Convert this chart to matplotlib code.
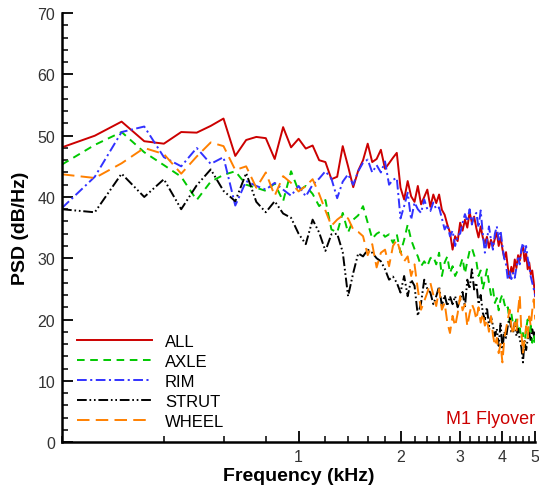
import matplotlib
matplotlib.use("Agg")
import matplotlib.pyplot as plt
from matplotlib.ticker import FixedLocator, NullFormatter

# narrowband spectrum bins (kHz)
FREQ_KHZ = [
    0.20, 0.25, 0.30, 0.35, 0.40, 0.45, 0.50, 0.55, 0.60, 0.65, 0.70, 0.75, 0.80, 0.85, 0.90, 0.95,
    1.00, 1.05, 1.10, 1.15, 1.20, 1.25, 1.30, 1.35, 1.40, 1.45, 1.50, 1.55, 1.60, 1.65, 1.70, 1.75, 1.80, 1.85, 1.90, 1.95,
    2.00, 2.05, 2.10, 2.15, 2.20, 2.25, 2.30, 2.35, 2.40, 2.45, 2.50, 2.55, 2.60, 2.65, 2.70, 2.75, 2.80, 2.85, 2.90, 2.95,
    3.00, 3.05, 3.10, 3.15, 3.20, 3.25, 3.30, 3.35, 3.40, 3.45, 3.50, 3.55, 3.60, 3.65, 3.70, 3.75, 3.80, 3.85, 3.90, 3.95,
    4.00, 4.05, 4.10, 4.15, 4.20, 4.25, 4.30, 4.35, 4.40, 4.45, 4.50, 4.55, 4.60, 4.65, 4.70, 4.75, 4.80, 4.85, 4.90, 4.95,
    5.00,
]

PSD_ALL = [
    48.1, 50.0, 52.3, 49.1, 48.7, 50.6, 50.5, 51.6, 52.8, 46.7, 49.3, 49.8, 49.6, 46.2, 51.4, 48.1,
    49.5, 47.9, 48.4, 46.0, 45.7, 42.9, 43.3, 48.3, 45.0, 41.6, 44.3, 46.0, 48.7, 45.7, 46.2, 47.7, 44.6, 45.5, 46.4, 47.2,
    41.5, 39.6, 42.6, 40.1, 39.2, 41.8, 38.8, 40.0, 41.2, 38.4, 40.4, 39.0, 40.4, 37.9, 37.1, 35.5, 34.2, 31.4, 33.6, 32.8,
    35.8, 34.5, 36.3, 35.0, 37.5, 35.8, 36.8, 34.9, 33.4, 35.2, 33.4, 32.4, 33.5, 31.7, 33.0, 32.0, 33.2, 34.2, 32.0, 33.5,
    31.5, 30.0, 31.0, 28.5, 26.8, 28.6, 27.5, 29.8, 28.4, 30.5, 29.6, 31.2, 32.0, 29.5, 30.8, 28.2, 29.3, 27.4, 28.0, 26.0,
    23.8,
]

PSD_AXLE = [
    45.3, 48.5, 50.6, 47.3, 45.2, 43.3, 39.5, 42.5, 43.6, 44.2, 42.0, 41.5, 41.0, 42.2, 39.3, 44.2,
    41.0, 41.8, 40.5, 38.5, 39.5, 34.7, 34.2, 37.4, 34.2, 36.3, 37.0, 38.5, 35.8, 33.2, 34.0, 34.4, 33.5, 33.9, 32.5, 33.9,
    30.9, 33.0, 35.5, 33.0, 31.5, 30.3, 28.7, 29.5, 28.7, 30.0, 30.3, 29.0, 30.9, 27.1, 29.3, 30.3, 27.6, 28.7, 27.1, 28.0,
    28.7, 30.0, 27.5, 29.5, 31.2, 31.7, 30.5, 29.5, 27.1, 28.0, 24.9, 26.5, 28.2, 26.0, 24.0, 25.0, 22.7, 23.5, 21.5, 23.3,
    24.1, 22.7, 21.6, 22.0, 19.5, 21.0, 19.2, 18.9, 20.2, 17.8, 18.6, 17.0, 17.8, 15.5, 18.5, 20.0, 17.8, 19.0, 16.2, 17.5,
    15.9,
]

PSD_RIM = [
    38.2, 43.3, 50.6, 51.5, 46.5, 45.0, 48.0, 45.4, 46.5, 38.6, 42.6, 41.8, 41.2, 42.3, 41.2, 40.2,
    41.8, 40.1, 42.0, 43.0, 44.2, 43.0, 39.8, 42.5, 43.7, 42.0, 44.2, 45.6, 46.1, 44.0, 45.2, 44.0, 45.8, 42.0, 42.8, 43.1,
    36.5, 38.5, 40.7, 36.3, 39.1, 38.0, 37.4, 39.6, 38.0, 37.7, 39.1, 38.0, 38.3, 36.5, 34.7, 35.5, 33.6, 34.5, 32.0, 33.8,
    34.0, 35.8, 37.2, 36.0, 38.0, 35.5, 37.0, 37.4, 35.0, 37.8, 34.0, 30.9, 33.0, 35.2, 33.0, 31.4, 34.0, 35.2, 33.0, 34.5,
    32.0, 30.0, 29.0, 26.5, 27.8, 26.6, 27.6, 26.8, 28.5, 30.0, 29.0, 31.5, 32.5, 31.0, 32.0, 30.0, 28.7, 27.0, 26.0, 25.0,
    23.8,
]

PSD_STRUT = [
    38.0, 37.5, 43.8, 40.0, 42.9, 38.0, 41.9, 44.5, 41.0, 39.3, 43.9, 39.2, 37.5, 39.3, 37.3, 36.6,
    34.0, 32.3, 36.3, 34.2, 31.2, 33.9, 34.0, 31.0, 23.8, 27.6, 30.8, 30.3, 31.4, 30.9, 30.0, 29.5, 28.2, 26.5, 27.0, 26.0,
    24.4, 27.1, 23.8, 26.5, 25.5, 20.6, 22.7, 26.5, 25.0, 24.4, 22.5, 23.8, 25.4, 22.2, 24.0, 22.2, 23.8, 22.5, 23.8, 22.0,
    23.3, 24.5, 22.0, 26.5, 25.0, 28.2, 24.9, 26.0, 22.5, 24.0, 21.1, 20.0, 22.0, 18.9, 20.5, 19.0, 17.3, 18.5, 15.7, 19.5,
    15.1, 18.0, 17.0, 19.0, 20.6, 18.0, 17.8, 19.5, 17.3, 18.5, 16.8, 15.5, 13.0, 16.5, 15.0, 16.8, 17.8, 16.5, 18.4, 17.5,
    18.0,
]

PSD_WHEEL = [
    43.7, 43.1, 45.5, 48.0, 47.0, 43.8, 46.6, 48.9, 48.3, 44.4, 45.0, 41.5, 44.0, 40.2, 43.4, 42.3,
    40.9, 41.8, 42.9, 40.5, 37.8, 35.3, 36.3, 37.0, 36.5, 34.7, 34.3, 33.6, 30.5, 32.3, 28.5, 30.9, 31.4, 28.7, 32.0, 33.0,
    31.0, 29.5, 30.3, 27.1, 29.0, 24.9, 21.6, 23.0, 24.4, 26.0, 24.0, 22.2, 25.0, 21.6, 22.7, 19.5, 17.8, 20.6, 18.9, 21.0,
    23.8, 21.5, 22.5, 18.9, 21.0, 22.5, 21.6, 20.0, 22.0, 19.5, 21.0, 19.0, 20.0, 18.0, 20.5, 17.5, 15.7, 17.0, 14.5, 16.0,
    13.0, 16.8, 18.5, 20.0, 21.6, 19.0, 17.5, 19.5, 18.0, 21.5, 24.0, 18.0, 14.6, 16.5, 18.9, 17.0, 20.5, 18.9, 21.5, 23.3,
    20.0,
]

LABELS = ["ALL", "AXLE", "RIM", "STRUT", "WHEEL"]
X_MAJOR = [1, 2, 3, 4, 5]


def main():
    plt.rcParams["font.family"] = ["Liberation Sans", "DejaVu Sans"]
    plt.rcParams["lines.scale_dashes"] = False

    fig = plt.figure(figsize=(5.39, 4.89), dpi=100)
    ax = fig.add_axes([0.115, 0.094, 0.878, 0.877])

    series = [PSD_ALL, PSD_AXLE, PSD_RIM, PSD_STRUT, PSD_WHEEL]
    colors = ["#cc0000", "#00c800", "#3232ff", "#000000", "#ff8000"]
    styles = ["-", (0, (5.5, 4)), (0, (7, 2.5, 1.5, 2.5)),
              (0, (7, 2, 1.2, 2, 1.2, 2)), (0, (9, 4.5))]

    for vals, lab, c, ls in zip(series, LABELS, colors, styles):
        ax.plot(FREQ_KHZ, vals, color=c, linestyle=ls, linewidth=1.4, label=lab)

    ax.set_xscale("log")
    ax.set_xlim(0.2, 5.0)
    ax.set_ylim(0, 70)

    minor = [round(0.2 * k, 1) for k in range(1, 25)]
    minor = [m for m in minor if m not in X_MAJOR]
    ax.xaxis.set_major_locator(FixedLocator(X_MAJOR))
    ax.xaxis.set_minor_locator(FixedLocator(minor))
    ax.set_xticklabels([str(v) for v in X_MAJOR])
    ax.xaxis.set_minor_formatter(NullFormatter())
    ax.set_yticks(range(0, 71, 10))
    ax.set_yticks(range(0, 71, 2), minor=True)

    for side in ["top", "right"]:
        ax.spines[side].set_visible(False)
    for side in ["left", "bottom"]:
        ax.spines[side].set_linewidth(1.8)

    ax.tick_params(which="major", direction="in", length=8, width=1.3,
                   labelsize=11.5, labelcolor="#333333", pad=5)
    ax.tick_params(which="minor", direction="in", length=4.5, width=1.1)

    ax.set_xlabel("Frequency (kHz)", fontsize=14, fontweight="bold", labelpad=2)
    ax.set_ylabel("PSD (dB/Hz)", fontsize=14, fontweight="bold", labelpad=6)

    ax.legend(loc="lower left", bbox_to_anchor=(0.0185, 0.016), frameon=False,
              fontsize=12, handlelength=4.5, handletextpad=0.75, labelspacing=0.3,
              borderaxespad=0.0)

    ax.text(1.0, 0.044, "M1 Flyover", transform=ax.transAxes, ha="right",
            va="baseline", color="#cc0000", fontsize=13)

    fig.savefig("out.png", dpi=100)
    plt.close(fig)


if __name__ == "__main__":
    main()
